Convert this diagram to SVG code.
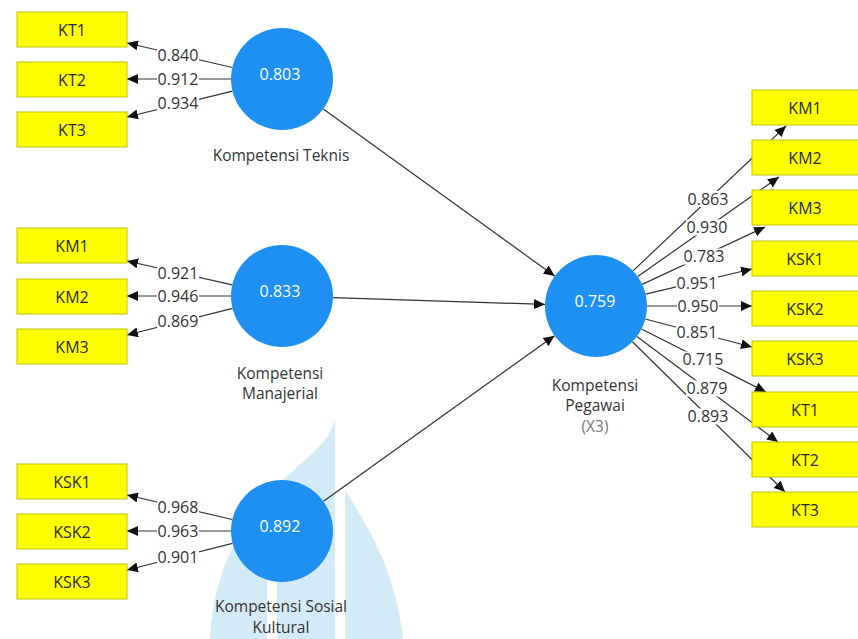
<svg xmlns="http://www.w3.org/2000/svg" width="858" height="639" viewBox="0 0 858 639">
  <defs>
    <marker id="ah" markerWidth="11" markerHeight="10" refX="11" refY="5" orient="auto" markerUnits="userSpaceOnUse">
      <path d="M0,0 L11,5 L0,10 Z" fill="#111"/>
    </marker>
    <style>
      .box rect { fill: #ffff00; stroke: #c2c200; stroke-width: 1; }
      .box text { font-family: "Open Sans", "Liberation Sans", sans-serif; font-size: 16px; fill: #2a2a2a; text-anchor: middle; }
      .lv circle { fill: #1e90f2; }
      .lv .val { font-family: "Open Sans", "Liberation Sans", sans-serif; font-size: 16px; fill: #ffffff; text-anchor: middle; }
      .lv .name { font-family: "Open Sans", "Liberation Sans", sans-serif; font-size: 15.5px; fill: #333333; text-anchor: middle; }
      .lv .sub { fill: #777777; }
      .conn line { stroke: #333333; stroke-width: 1.2; marker-end: url(#ah); }
      .conn rect { fill: #ffffff; }
      .conn text { font-family: "Open Sans", "Liberation Sans", sans-serif; font-size: 16px; fill: #333333; text-anchor: middle; }
      .wm { fill: #d3eaf7; }
    </style>
  </defs>
  <rect x="0" y="0" width="858" height="639" fill="#ffffff"/>

  <!-- faint watermark -->
  <g id="watermark">
    <path class="wm" d="M210,639 C212,585 232,535 267,497 L267,639 Z"/>
    <path class="wm" d="M277,639 L277,486 C300,462 330,445 335,418 L335,639 Z"/>
    <path class="wm" d="M345,639 L345,490 C370,530 395,570 403,639 Z"/>
  </g>

  <!-- connectors -->
  <g id="connectors" class="conn">
    <line x1="232.3" y1="67.5" x2="127" y2="43"/>
    <line x1="231" y1="79" x2="127" y2="79"/>
    <line x1="232.5" y1="91.1" x2="127" y2="117"/>
    <line x1="232.2" y1="284.8" x2="127" y2="261"/>
    <line x1="231" y1="296" x2="127" y2="296"/>
    <line x1="232.5" y1="308.4" x2="127" y2="335"/>
    <line x1="232.3" y1="519.5" x2="127" y2="495"/>
    <line x1="231" y1="531" x2="127" y2="531"/>
    <line x1="232.5" y1="543.4" x2="127" y2="570"/>

    <line x1="323.3" y1="108.9" x2="554.7" y2="276.1"/>
    <line x1="333" y1="297.6" x2="545" y2="304.4"/>
    <line x1="323.5" y1="501.3" x2="554.5" y2="335.7"/>

    <line x1="633" y1="270.9" x2="786" y2="126"/>
    <line x1="637.7" y1="276.6" x2="779" y2="177"/>
    <line x1="642.2" y1="284.4" x2="765" y2="227"/>
    <line x1="645.6" y1="294.2" x2="752" y2="269"/>
    <line x1="647" y1="306" x2="752" y2="306"/>
    <line x1="645.3" y1="319" x2="752" y2="347"/>
    <line x1="641.5" y1="329" x2="766" y2="392"/>
    <line x1="636.9" y1="336.5" x2="778" y2="442"/>
    <line x1="632.4" y1="341.8" x2="785" y2="492"/>

    <rect x="157" y="47" width="42" height="16"/><text x="178" y="60.5">0.840</text>
    <rect x="157" y="71" width="42" height="16"/><text x="178" y="84.5">0.912</text>
    <rect x="157" y="95.5" width="42" height="16"/><text x="178" y="109">0.934</text>
    <rect x="157" y="265" width="42" height="16"/><text x="178" y="278.5">0.921</text>
    <rect x="157" y="288" width="42" height="16"/><text x="178" y="301.5">0.946</text>
    <rect x="157" y="313" width="42" height="16"/><text x="178" y="326.5">0.869</text>
    <rect x="157" y="499" width="42" height="16"/><text x="178" y="512.5">0.968</text>
    <rect x="157" y="523" width="42" height="16"/><text x="178" y="536.5">0.963</text>
    <rect x="157" y="549" width="42" height="16"/><text x="178" y="562.5">0.901</text>

    <rect x="687" y="191" width="42" height="16"/><text x="708" y="204.5">0.863</text>
    <rect x="686" y="219.5" width="42" height="16"/><text x="707" y="233">0.930</text>
    <rect x="683" y="248.5" width="42" height="16"/><text x="704" y="262">0.783</text>
    <rect x="676" y="275.5" width="42" height="16"/><text x="697" y="289">0.951</text>
    <rect x="677" y="298.5" width="42" height="16"/><text x="698" y="312">0.950</text>
    <rect x="676" y="324" width="42" height="16"/><text x="697" y="337.5">0.851</text>
    <rect x="682" y="351.5" width="42" height="16"/><text x="703" y="365">0.715</text>
    <rect x="686" y="380.5" width="42" height="16"/><text x="707" y="394">0.879</text>
    <rect x="687" y="408.5" width="42" height="16"/><text x="708" y="422">0.893</text>
  </g>

  <!-- left indicators -->
  <g id="ind-KT1-l" class="box"><rect x="17" y="12" width="110" height="35"/><text x="72" y="35.5">KT1</text></g>
  <g id="ind-KT2-l" class="box"><rect x="17" y="62" width="110" height="35"/><text x="72" y="85.5">KT2</text></g>
  <g id="ind-KT3-l" class="box"><rect x="17" y="112" width="110" height="35"/><text x="72" y="135.5">KT3</text></g>
  <g id="ind-KM1-l" class="box"><rect x="17" y="228" width="110" height="35"/><text x="72" y="251.5">KM1</text></g>
  <g id="ind-KM2-l" class="box"><rect x="17" y="279" width="110" height="35"/><text x="72" y="302.5">KM2</text></g>
  <g id="ind-KM3-l" class="box"><rect x="17" y="329" width="110" height="35"/><text x="72" y="352.5">KM3</text></g>
  <g id="ind-KSK1-l" class="box"><rect x="17" y="464" width="110" height="35"/><text x="72" y="487.5">KSK1</text></g>
  <g id="ind-KSK2-l" class="box"><rect x="17" y="514" width="110" height="35"/><text x="72" y="537.5">KSK2</text></g>
  <g id="ind-KSK3-l" class="box"><rect x="17" y="564" width="110" height="35"/><text x="72" y="587.5">KSK3</text></g>

  <!-- right indicators -->
  <g id="ind-KM1-r" class="box"><rect x="752" y="90" width="110" height="35"/><text x="805" y="113.5">KM1</text></g>
  <g id="ind-KM2-r" class="box"><rect x="752" y="140" width="110" height="35"/><text x="805" y="163.5">KM2</text></g>
  <g id="ind-KM3-r" class="box"><rect x="752" y="190" width="110" height="35"/><text x="805" y="213.5">KM3</text></g>
  <g id="ind-KSK1-r" class="box"><rect x="752" y="241" width="110" height="35"/><text x="805" y="264.5">KSK1</text></g>
  <g id="ind-KSK2-r" class="box"><rect x="752" y="291" width="110" height="35"/><text x="805" y="314.5">KSK2</text></g>
  <g id="ind-KSK3-r" class="box"><rect x="752" y="341" width="110" height="35"/><text x="805" y="364.5">KSK3</text></g>
  <g id="ind-KT1-r" class="box"><rect x="752" y="392" width="110" height="35"/><text x="805" y="415.5">KT1</text></g>
  <g id="ind-KT2-r" class="box"><rect x="752" y="442" width="110" height="35"/><text x="805" y="465.5">KT2</text></g>
  <g id="ind-KT3-r" class="box"><rect x="752" y="492" width="110" height="35"/><text x="805" y="515.5">KT3</text></g>

  <!-- latent variables -->
  <g id="lv-teknis" class="lv">
    <circle cx="282" cy="79" r="51"/>
    <text class="val" x="280" y="80">0.803</text>
    <text class="name" x="281" y="161">Kompetensi Teknis</text>
  </g>
  <g id="lv-manajerial" class="lv">
    <circle cx="282" cy="296" r="51"/>
    <text class="val" x="280" y="297">0.833</text>
    <text class="name" x="280" y="379">Kompetensi</text>
    <text class="name" x="280" y="399">Manajerial</text>
  </g>
  <g id="lv-sosial" class="lv">
    <circle cx="282" cy="531" r="51"/>
    <text class="val" x="280" y="532">0.892</text>
    <text class="name" x="281" y="612">Kompetensi Sosial</text>
    <text class="name" x="281" y="633">Kultural</text>
  </g>
  <g id="lv-pegawai" class="lv">
    <circle cx="596" cy="306" r="51"/>
    <text class="val" x="595" y="307">0.759</text>
    <text class="name" x="595" y="391">Kompetensi</text>
    <text class="name" x="595" y="411">Pegawai</text>
    <text class="name sub" x="595" y="432">(X3)</text>
  </g>
</svg>
